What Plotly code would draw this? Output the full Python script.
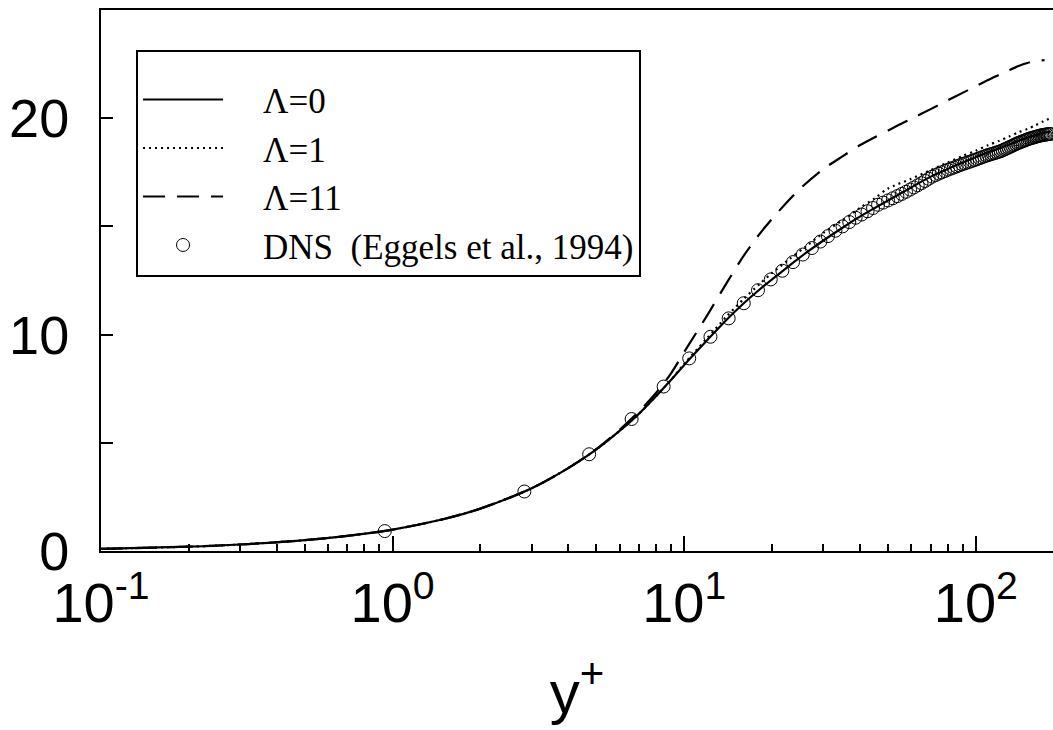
import plotly.graph_objects as go

# ---- data ----
yplus_grid = [0.1, 0.2, 0.3, 0.5, 0.7, 1.0, 1.5, 2.0, 3.0, 4.0, 5.0, 6.0, 7.0, 8.0, 9.0,
              10.0, 12.0, 14.0, 16.0, 18.0, 20.0, 23.0, 26.0, 30.0, 35.0, 40.0, 45.0,
              50.0, 60.0, 70.0, 80.0, 90.0, 100.0, 110.0, 120.0, 130.0, 140.0, 150.0,
              160.0, 170.0, 180.0]

u_lambda0 = [0.1, 0.2, 0.3, 0.5, 0.7, 0.99, 1.48, 1.96, 2.9, 3.83, 4.7, 5.55, 6.35, 7.15, 7.9,
             8.6, 9.75, 10.7, 11.45, 12.05, 12.55, 13.2, 13.75, 14.35, 14.95, 15.45, 15.85,
             16.2, 16.8, 17.3, 17.65, 17.95, 18.2, 18.42, 18.6, 18.78, 18.95, 19.1,
             19.22, 19.32, 19.38]

u_lambda1 = [0.1, 0.2, 0.3, 0.5, 0.7, 0.99, 1.48, 1.96, 2.9, 3.83, 4.7, 5.55, 6.35, 7.15, 7.9,
             8.65, 9.85, 10.85, 11.65, 12.3, 12.85, 13.5, 14.05, 14.7, 15.3, 15.85, 16.3,
             16.75, 17.2, 17.6, 17.95, 18.25, 18.5, 18.75, 18.95, 19.15, 19.35, 19.5,
             19.67, 19.85, 20.0]

yplus_l11 = [0.1, 0.2, 0.3, 0.5, 0.7, 1.0, 1.5, 2.0, 3.0, 4.0, 5.0, 6.0, 7.0, 8.0, 9.0,
             10.0, 12.0, 14.0, 16.0, 18.0, 20.0, 23.0, 25.0, 30.0, 35.0, 40.0, 45.0,
             50.0, 55.0, 60.0, 70.0, 80.0, 90.0, 100.0, 110.0, 120.0, 130.0, 140.0,
             150.0, 160.0, 172.0]

u_lambda11 = [0.1, 0.2, 0.3, 0.5, 0.7, 0.99, 1.48, 1.96, 2.9, 3.83, 4.72, 5.6, 6.45, 7.3, 8.2,
              9.2, 10.9, 12.4, 13.65, 14.6, 15.35, 16.25, 16.75, 17.65, 18.25, 18.75, 19.12,
              19.43, 19.72, 19.97, 20.42, 20.82, 21.17, 21.48, 21.76, 22.0, 22.22, 22.41,
              22.55, 22.64, 22.68]

dns_yplus = [0.94, 2.83, 4.72, 6.6, 8.5, 10.4, 12.3, 14.2, 16.0, 17.9, 19.8, 21.7, 23.6,
             25.5, 27.4, 29.3, 31.1, 33.0, 34.9, 36.8, 38.7, 40.6, 42.5, 44.4, 46.2,
             48.1, 50.0, 51.9, 53.8, 55.7, 57.6, 59.5, 61.3, 63.2, 65.1, 67.0, 68.9,
             70.8, 72.7, 74.6, 76.4, 78.3, 80.2, 82.1, 84.0, 85.9, 87.8, 89.7, 91.5,
             93.4, 95.3, 97.2, 99.1, 101.0, 102.9, 104.8, 106.7, 108.6, 110.4, 112.3,
             114.2, 116.1, 118.0, 119.9, 121.8, 123.7, 125.6, 127.4, 129.3, 131.2,
             133.1, 135.0, 136.9, 138.8, 140.7, 142.5, 144.4, 146.3, 148.2, 150.1,
             152.0, 153.9, 155.8, 157.6, 159.5, 161.4, 163.3, 165.2, 167.1, 169.0,
             170.8, 172.7, 174.6, 176.5, 178.4, 180.3]

dns_u = [0.92, 2.75, 4.47, 6.1, 7.6, 8.9, 9.9, 10.75, 11.45, 12.05, 12.55, 12.95, 13.35,
         13.7, 14.0, 14.3, 14.55, 14.8, 15.0, 15.2, 15.4, 15.55, 15.7, 15.85, 16.0,
         16.1, 16.2, 16.3, 16.4, 16.5, 16.6, 16.7, 16.8, 16.9, 17.0, 17.1, 17.2,
         17.3, 17.37, 17.44, 17.5, 17.56, 17.62, 17.67, 17.72, 17.77, 17.82, 17.87, 17.91,
         17.95, 17.99, 18.03, 18.07, 18.11, 18.15, 18.19, 18.23, 18.27, 18.3, 18.33,
         18.36, 18.39, 18.42, 18.45, 18.48, 18.52, 18.56, 18.6, 18.64, 18.68,
         18.72, 18.76, 18.8, 18.84, 18.87, 18.9, 18.93, 18.96, 18.99, 19.02,
         19.05, 19.07, 19.09, 19.11, 19.13, 19.15, 19.17, 19.19, 19.2, 19.22,
         19.23, 19.24, 19.25, 19.26, 19.27, 19.27]

x_tickvals = [0.1, 1, 10, 100]
x_ticktext = ["10<sup>-1</sup>", "10<sup>0</sup>", "10<sup>1</sup>", "10<sup>2</sup>"]
x_minor = [0.2, 0.3, 0.4, 0.5, 0.6, 0.7, 0.8, 0.9, 2, 3, 4, 5, 6, 7, 8, 9,
           20, 30, 40, 50, 60, 70, 80, 90]
y_tickvals = [0, 10, 20]
y_minor = [5, 15]

NB = "\u00a0"
label_names = [NB * 4 + "\u039b=0", NB * 4 + "\u039b=1", NB * 4 + "\u039b=11",
               NB * 4 + "DNS" + NB * 2 + "(Eggels et al., 1994)"]

SANS = "Liberation Sans, Arial, sans-serif"
SERIF = "Liberation Serif, Times New Roman, serif"

fig = go.Figure()
fig.add_trace(go.Scatter(x=yplus_grid, y=u_lambda0, mode="lines", name=label_names[0],
                         line=dict(color="black", width=2.2, shape="spline", smoothing=0.8)))
fig.add_trace(go.Scatter(x=yplus_grid, y=u_lambda1, mode="lines", name=label_names[1],
                         line=dict(color="black", width=2.2, dash="2px,4px",
                                   shape="spline", smoothing=0.8)))
fig.add_trace(go.Scatter(x=yplus_l11, y=u_lambda11, mode="lines", name=label_names[2],
                         line=dict(color="black", width=2.2, dash="22px,12px",
                                   shape="spline", smoothing=0.8)))
fig.add_trace(go.Scatter(x=dns_yplus, y=dns_u, mode="markers", name=label_names[3],
                         marker=dict(symbol="circle-open", size=13, color="black",
                                     line=dict(width=1, color="black"))))

fig.update_layout(
    width=1053, height=730,
    margin=dict(l=101, r=0, t=10, b=179),
    paper_bgcolor="white", plot_bgcolor="white",
    showlegend=True,
    legend=dict(x=0.0368, y=0.926, xanchor="left", yanchor="top",
                bgcolor="white", bordercolor="black", borderwidth=2,
                font=dict(family=SERIF, size=35, color="black"),
                itemwidth=80, tracegroupgap=0,
                title=dict(text=NB, font=dict(family=SERIF, size=14))),
)

fig.update_xaxes(
    type="log", range=[-1, 2.2645], automargin=False,
    tickmode="array", tickvals=x_tickvals, ticktext=x_ticktext,
    ticks="inside", ticklen=15, tickwidth=2, tickcolor="black",
    minor=dict(tickmode="array", tickvals=x_minor, ticks="inside", ticklen=7,
               tickwidth=1.5, tickcolor="black", showgrid=False),
    showline=True, linecolor="black", linewidth=2, mirror=True,
    showgrid=False, zeroline=False,
    tickfont=dict(family=SANS, size=56, color="black"),
    ticklabelstandoff=2,
    title=dict(text="y<sup>+</sup>", font=dict(family=SANS, size=60, color="black"),
               standoff=38),
)
fig.update_yaxes(
    range=[0, 25], automargin=False,
    tickmode="array", tickvals=y_tickvals,
    ticks="inside", ticklen=12, tickwidth=2, tickcolor="black",
    minor=dict(tickmode="array", tickvals=y_minor, ticks="inside", ticklen=12,
               tickwidth=2, tickcolor="black", showgrid=False),
    showline=True, linecolor="black", linewidth=2, mirror=False,
    showgrid=False, zeroline=False,
    tickfont=dict(family=SANS, size=54, color="black"),
    ticklabelstandoff=19,
)

fig.write_html(
    "out.html",
    config={"displayModeBar": False},
    post_script="document.body.style.margin='0';document.body.style.padding='0';"
                "document.body.style.overflow='hidden';",
)
